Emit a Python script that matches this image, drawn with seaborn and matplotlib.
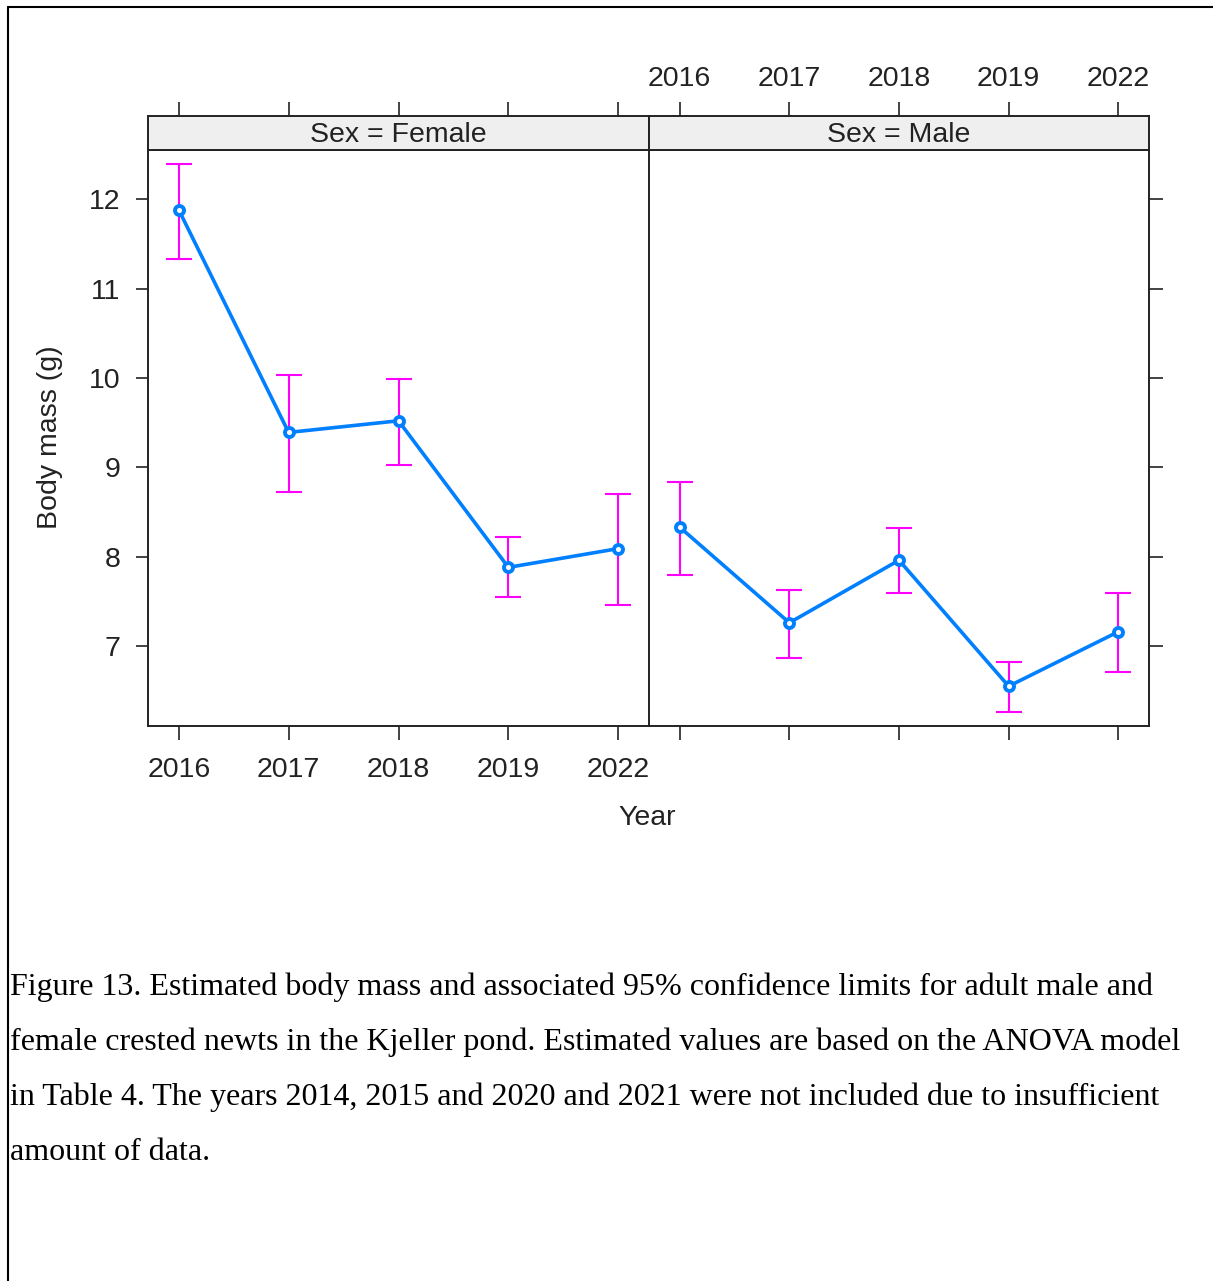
import numpy as np
import pandas as pd
import seaborn as sns
import matplotlib.pyplot as plt
from matplotlib.lines import Line2D

# estimated body mass (g) with 95% confidence limits
years = ['2016', '2017', '2018', '2019', '2022']
female_mass = [11.88, 9.39, 9.52, 7.88, 8.09]
female_lower = [11.33, 8.72, 9.02, 7.55, 7.46]
female_upper = [12.39, 10.03, 9.99, 8.22, 8.70]
male_mass = [8.33, 7.26, 7.96, 6.55, 7.16]
male_lower = [7.79, 6.87, 7.59, 6.26, 6.71]
male_upper = [8.83, 7.63, 8.32, 6.82, 7.59]
y_ticks = [7, 8, 9, 10, 11, 12]

caption_lines = [
    'Figure 13. Estimated body mass and associated 95% confidence limits for adult male and',
    'female crested newts in the Kjeller pond. Estimated values are based on the ANOVA model',
    'in Table 4. The years 2014, 2015 and 2020 and 2021 were not included due to insufficient',
    'amount of data.',
]

LINE_COL = '#0080ff'
ERR_COL = '#ff00ff'
FS = 20.5


def build_frame():
    rows = []
    for sex, m, lo, hi in [('Female', female_mass, female_lower, female_upper),
                           ('Male', male_mass, male_lower, male_upper)]:
        for y, a, b, c in zip(years, m, lo, hi):
            rows.append({'Sex': sex, 'Year': y, 'Mass': a, 'Lower': b, 'Upper': c})
    return pd.DataFrame(rows)


def main():
    sns.set_theme(style='white')
    plt.rcParams['font.family'] = ['Liberation Sans', 'DejaVu Sans']

    df = build_frame()
    fig = plt.figure(figsize=(12.13, 12.81), dpi=100)

    W, H = 1213, 1281
    left_px = [148, 649]
    right_px = [649, 1149]
    top_px, bot_px, strip_top_px = 150, 726, 116
    xlim = (-0.28, 4.28)
    ylim = (6.105, 12.55)

    for i, sex in enumerate(['Female', 'Male']):
        sub = df[df['Sex'] == sex]
        x0 = left_px[i] / W
        w = (right_px[i] - left_px[i]) / W
        ax = fig.add_axes([x0, 1 - bot_px / H, w, (bot_px - top_px) / H])
        sax = fig.add_axes([x0, 1 - top_px / H, w, (top_px - strip_top_px) / H])

        pos = np.arange(len(years))
        mass = sub['Mass'].to_numpy()
        ax.errorbar(pos, mass,
                    yerr=[mass - sub['Lower'].to_numpy(), sub['Upper'].to_numpy() - mass],
                    fmt='none', ecolor=ERR_COL, elinewidth=1.5, capsize=9.5,
                    capthick=1.5, zorder=1)
        sns.pointplot(data=sub, x='Year', y='Mass', order=years, color=LINE_COL,
                      errorbar=None, markers='o', linewidth=2.6, markersize=6.5,
                      markerfacecolor='white', markeredgewidth=2.8, ax=ax)

        ax.set_xlim(xlim)
        ax.set_ylim(ylim)
        ax.set_xlabel('')
        ax.set_ylabel('')
        ax.set_xticks(pos)
        ax.set_yticks(y_ticks)
        for s in ax.spines.values():
            s.set_color('#222222')
            s.set_linewidth(1.4)

        if i == 0:
            ax.set_xticklabels(years, fontsize=FS)
            ax.set_yticklabels([str(t) for t in y_ticks], fontsize=FS)
            ax.tick_params(axis='y', left=True, right=False, direction='out',
                           length=9, width=1.2, pad=11, colors='#222222',
                           labelcolor='#222222')
            ax.spines['right'].set_visible(False)
        else:
            ax.set_xticklabels([])
            ax.set_yticklabels([])
            ax.tick_params(axis='y', left=False, right=True, labelright=False,
                           labelleft=False, direction='out', length=10, width=1.2,
                           colors='#222222')
        ax.tick_params(axis='x', bottom=True, direction='out', length=10, width=1.2,
                       pad=12, colors='#222222', labelcolor='#222222')

        # strip panel on top
        sax.set_facecolor('#efefef')
        sax.set_xlim(xlim)
        sax.set_ylim(0, 1)
        sax.set_yticks([])
        sax.set_xticks(pos)
        sax.xaxis.tick_top()
        sax.tick_params(axis='x', top=True, bottom=False, direction='out', length=10,
                        width=1.2, pad=7, colors='#222222', labelcolor='#222222')
        if i == 1:
            sax.set_xticklabels(years, fontsize=FS)
        else:
            sax.set_xticklabels([])
        for s in sax.spines.values():
            s.set_color('#222222')
            s.set_linewidth(1.4)
        sax.text(0.5, 0.45, f'Sex = {sex}', transform=sax.transAxes, ha='center',
                 va='center', fontsize=FS, color='#222222')

    fig.text(50 / W, 1 - 437 / H, 'Body mass (g)', rotation=90, ha='center',
             va='center', fontsize=FS, color='#222222')
    fig.text(647 / W, 1 - 818 / H, 'Year', ha='center', va='center', fontsize=FS,
             color='#222222')

    for k, line in enumerate(caption_lines):
        fig.text(10 / W, 1 - (987 + 55.3 * k) / H, line, ha='left', va='center',
                 fontsize=23.0, family=['Liberation Serif', 'DejaVu Serif'],
                 color='black')

    # page frame lines (top and left)
    fig.add_artist(Line2D([8 / W, 8 / W], [0, 1 - 7 / H], color='black', lw=1.5,
                          transform=fig.transFigure))
    fig.add_artist(Line2D([8 / W, 1], [1 - 7 / H, 1 - 7 / H], color='black', lw=1.5,
                          transform=fig.transFigure))

    fig.savefig('out.png', dpi=100)
    plt.close(fig)


if __name__ == '__main__':
    main()
